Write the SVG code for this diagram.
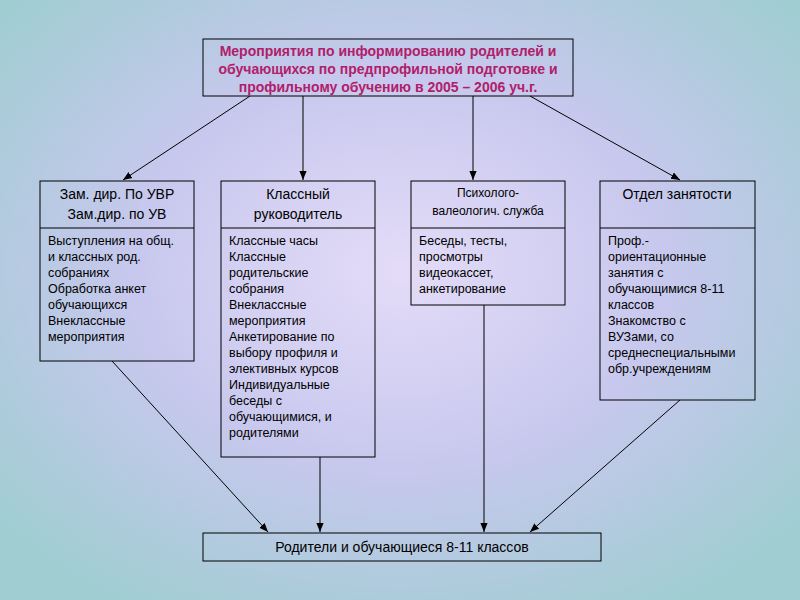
<svg xmlns="http://www.w3.org/2000/svg" width="800" height="600" viewBox="0 0 800 600">
<defs>
<radialGradient id="bg" cx="50%" cy="45%" r="65%">
<stop offset="0" stop-color="#e4dcf8"/><stop offset="0.5" stop-color="#c8c8ee"/><stop offset="1" stop-color="#a0cdd2"/>
</radialGradient>
<marker id="a" viewBox="0 0 10 10" refX="10" refY="5" markerWidth="9" markerHeight="9" orient="auto"><path d="M0,1 L10,5 L0,9 z" fill="#000"/></marker>
<style>
.b{fill:none;stroke:#000;stroke-width:1}
.t{font-family:"Liberation Sans",Arial,sans-serif;font-size:12.5px;fill:#000}
.h{font-family:"Liberation Sans",Arial,sans-serif;font-size:14px;fill:#000;text-anchor:middle}
.c line{stroke:#000;stroke-width:1;marker-end:url(#a)}
</style>
</defs>
<rect width="800" height="600" fill="url(#bg)"/>
<g id="top"><rect class="b" x="203" y="39" width="370" height="57"/>
<text font-family="Liberation Sans,Arial,sans-serif" font-size="14" font-weight="bold" fill="#b0206a" text-anchor="middle"><tspan x="388" y="56">Мероприятия по информированию родителей и</tspan><tspan x="388" y="74">обучающихся по предпрофильной подготовке и</tspan><tspan x="388" y="92">профильному обучению в 2005 – 2006 уч.г.</tspan></text></g>
<g id="n1"><rect class="b" x="40" y="181" width="154" height="180"/><line class="b" x1="40" y1="228" x2="194" y2="228"/>
<text class="h"><tspan x="117" y="199">Зам. дир. По УВР</tspan><tspan x="117" y="219">Зам.дир. по УВ</tspan></text>
<text class="t"><tspan x="48" y="245">Выступления на общ.</tspan><tspan x="48" y="261">и классных род.</tspan><tspan x="48" y="277">собраниях</tspan><tspan x="48" y="293">Обработка анкет</tspan><tspan x="48" y="309">обучающихся</tspan><tspan x="48" y="325">Внеклассные</tspan><tspan x="48" y="341">мероприятия</tspan></text></g>
<g id="n2"><rect class="b" x="221" y="181" width="154" height="276"/><line class="b" x1="221" y1="228" x2="375" y2="228"/>
<text class="h"><tspan x="298" y="199">Классный</tspan><tspan x="298" y="219">руководитель</tspan></text>
<text class="t"><tspan x="229" y="245">Классные часы</tspan><tspan x="229" y="261">Классные</tspan><tspan x="229" y="277">родительские</tspan><tspan x="229" y="293">собрания</tspan><tspan x="229" y="309">Внеклассные</tspan><tspan x="229" y="325">мероприятия</tspan><tspan x="229" y="341">Анкетирование по</tspan><tspan x="229" y="357">выбору профиля и</tspan><tspan x="229" y="373">элективных курсов</tspan><tspan x="229" y="389">Индивидуальные</tspan><tspan x="229" y="405">беседы с</tspan><tspan x="229" y="421">обучающимися, и</tspan><tspan x="229" y="437">родителями</tspan></text></g>
<g id="n3"><rect class="b" x="411" y="181" width="154" height="124"/><line class="b" x1="411" y1="228" x2="565" y2="228"/>
<text class="h" style="font-size:12px"><tspan x="488" y="197">Психолого-</tspan><tspan x="488" y="215">валеологич. служба</tspan></text>
<text class="t"><tspan x="419" y="245">Беседы, тесты,</tspan><tspan x="419" y="261">просмотры</tspan><tspan x="419" y="277">видеокассет,</tspan><tspan x="419" y="293">анкетирование</tspan></text></g>
<g id="n4"><rect class="b" x="600" y="181" width="155" height="219"/><line class="b" x1="600" y1="228" x2="755" y2="228"/>
<text class="h"><tspan x="677" y="199">Отдел занятости</tspan></text>
<text class="t"><tspan x="608" y="245">Проф.-</tspan><tspan x="608" y="261">ориентационные</tspan><tspan x="608" y="277">занятия с</tspan><tspan x="608" y="293">обучающимися 8-11</tspan><tspan x="608" y="309">классов</tspan><tspan x="608" y="325">Знакомство с</tspan><tspan x="608" y="341">ВУЗами, со</tspan><tspan x="608" y="357">среднеспециальными</tspan><tspan x="608" y="373">обр.учреждениям</tspan></text></g>
<g id="bottom"><rect class="b" x="203" y="533" width="398" height="28"/>
<text class="h" x="402" y="552">Родители и обучающиеся 8-11 классов</text></g>
<g class="c" id="connectors">
<line x1="250" y1="96" x2="123" y2="180"/>
<line x1="303" y1="96" x2="303" y2="180"/>
<line x1="473" y1="96" x2="473" y2="180"/>
<line x1="530" y1="96" x2="680" y2="180"/>
<line x1="112" y1="361" x2="268" y2="532"/>
<line x1="320" y1="457" x2="320" y2="532"/>
<line x1="484" y1="305" x2="484" y2="532"/>
<line x1="680" y1="400" x2="530" y2="532"/>
</g>
</svg>
